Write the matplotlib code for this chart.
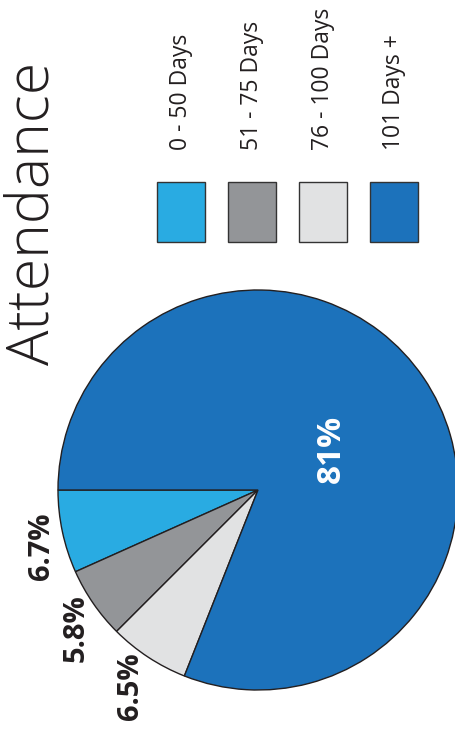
import numpy as np
import matplotlib.pyplot as plt
from matplotlib.patches import Rectangle

# attendance groups and their shares (%)
categories = ["0 - 50 Days", "51 - 75 Days", "76 - 100 Days", "101 Days +"]
shares = [6.7, 5.8, 6.5, 81]
share_labels = ["6.7%", "5.8%", "6.5%", "81%"]
colors = ["#29abe2", "#939598", "#e1e2e3", "#1c72bb"]

W, H = 456, 736
fig = plt.figure(figsize=(W / 100, H / 100), dpi=100)
ax = fig.add_axes([0, 0, 1, 1])

center = (258, H - 490)
radius = 200
wedges, _ = ax.pie(shares, colors=colors, startangle=180, counterclock=True,
                   center=center, radius=radius,
                   wedgeprops=dict(edgecolor="#231f20", linewidth=1.0))
ax.set_xlim(0, W)
ax.set_ylim(0, H)
ax.set_aspect("equal")
ax.axis("off")

# percentage labels, turned on their side (radius factor, angle nudge)
label_pos = [(1.12, 2.5), (1.14, 2.6), (1.17, 0.3), (0.42, -5.2)]
for i, w in enumerate(wedges):
    dist, nudge = label_pos[i]
    mid = np.deg2rad((w.theta1 + w.theta2) / 2 + nudge)
    if shares[i] > 50:
        col, size = "white", 24
    else:
        col, size = "#231f20", 21
    x = center[0] + dist * radius * np.cos(mid)
    y = center[1] + dist * radius * np.sin(mid)
    ax.text(x, y, share_labels[i], rotation=90, ha="center", va="center",
            fontsize=size, fontweight="bold", color=col, family="Open Sans")

# title
ax.text(33, H - 213, "Attendance", rotation=90, ha="center", va="center",
        fontsize=42.5, fontweight="light", color="#231f20", family="Open Sans")

# legend: swatches with labels above them
box_x = [157, 228, 299, 370]
for i, cat in enumerate(categories):
    ax.add_patch(Rectangle((box_x[i], H - 242), 48, 60, facecolor=colors[i],
                           edgecolor="#333333", linewidth=1.0))
    ax.text(box_x[i] + 24, H - 150, cat, rotation=90, ha="center", va="bottom",
            fontsize=16.5, color="#231f20", family="Open Sans")

fig.savefig("out.png", dpi=100)
